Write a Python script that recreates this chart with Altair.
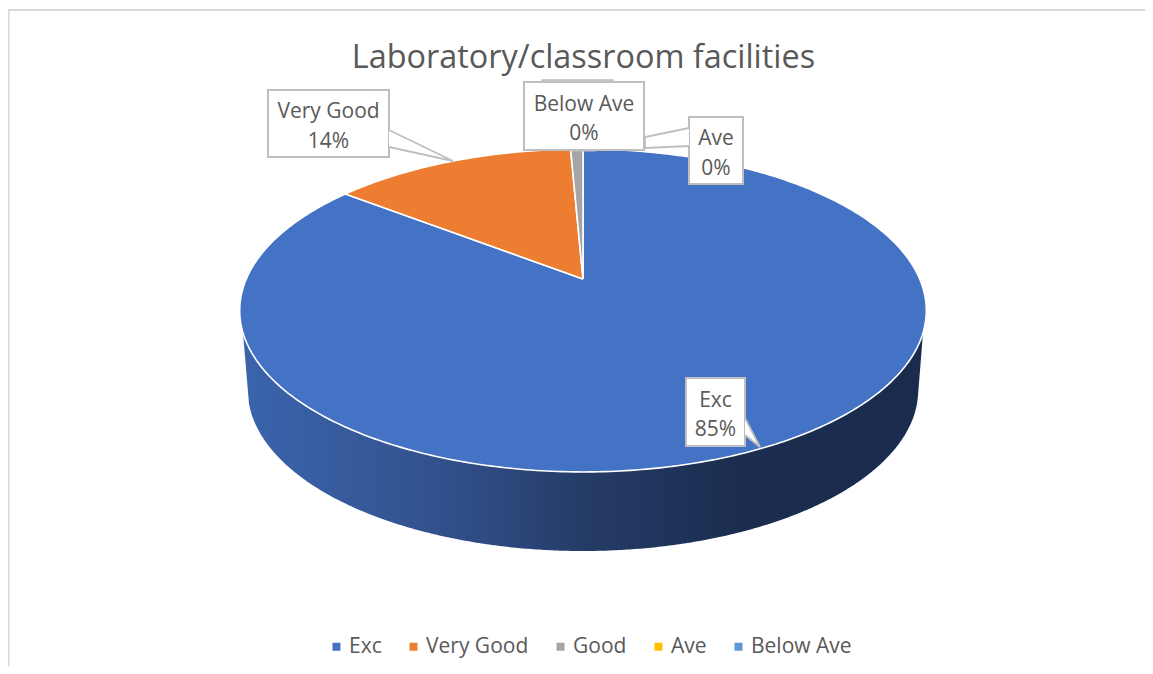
import numpy as np
import pandas as pd
import altair as alt

# ---- chart values ----
categories = ["Exc", "Very Good", "Good", "Ave", "Below Ave"]
values = [85.5, 13.8, 0.7, 0.0, 0.0]
colors = ["#4472C4", "#ED7D31", "#A5A5A5", "#FFC000", "#5B9BD5"]
title_text = "Laboratory/classroom facilities"

label_names = ["Very Good", "Below Ave", "Ave", "Exc"]
label_pcts = ["14%", "0%", "0%", "85%"]
box_left = [268, 524, 689, 686]
box_right = [389, 644, 743, 745]
box_top = [90, 82, 117, 378]
box_bottom = [157, 150, 184, 446]

FONT = "Open Sans"
TEXT = "#595959"
BOXLINE = "#BFBFBF"
LABEL_SIZE = 21

# ---- perspective of the pie's top face (page pixels) ----
CX, APEX_Y, A, C, B = 583.0, 279.0, 336.7, 0.195, -100.9


def project(angle):
    px, py = np.sin(angle), np.cos(angle)
    d = 1 + C * py
    return CX + A * px / d, (B * py + APEX_Y) / d


def slices():
    rows, start = [], 0.0
    total = sum(values)
    for cat, v in zip(categories, values):
        if v <= 0:
            continue
        a0, a1 = start / total * 2 * np.pi, (start + v) / total * 2 * np.pi
        ang = np.linspace(a0, a1, max(int(v * 5), 6))
        xs, ys = project(ang)
        pts = [(CX, APEX_Y)] + list(zip(xs, ys)) + [(CX, APEX_Y)]
        for i, (x, y) in enumerate(pts):
            rows.append({"category": cat, "x": x, "y": y, "i": i})
        start += v
    return pd.DataFrame(rows)


def wall():
    xs = CX + 340 * np.sin(np.linspace(-np.pi / 2, np.pi / 2, 400))
    xs = np.unique(np.concatenate([xs, [249.0, 918.0]]))
    top = 310.5 + 161.5 * np.sqrt(np.clip(1 - ((xs - CX) / 343.3) ** 2, 0, 1))
    bot = 390 + 161 * np.sqrt(np.clip(1 - ((xs - CX) / 335.2) ** 2, 0, 1))
    left = xs < 249
    bot[left] = np.interp(xs[left], [xs[0], 249], [top[0], bot[np.searchsorted(xs, 249.0)]])
    right = xs > 918
    bot[right] = np.interp(xs[right], [918, xs[-1]], [bot[np.searchsorted(xs, 918.0)], top[-1]])
    return pd.DataFrame({"x": xs, "y": top, "y2": bot})


sx = alt.Scale(domain=[8, 1145], range=[0, 1137], nice=False, zero=False)
sy = alt.Scale(domain=[8, 666], range=[0, 658], nice=False, zero=False)
X = alt.X("x:Q", scale=sx, axis=None)
Y = alt.Y("y:Q", scale=sy, axis=None)

frame_df = pd.DataFrame({"x": [8, 8.5], "x2": [1145, 8.5], "y": [10, 10], "y2": [10, 666]})
frame = alt.Chart(frame_df).mark_rule(color="#D9D9D9", strokeWidth=2).encode(
    x=X, x2="x2:Q", y=Y, y2="y2:Q"
)

side = alt.Chart(wall()).mark_area(
    color=alt.Gradient(
        gradient="linear",
        x1=0, x2=1, y1=0, y2=0,
        stops=[
            alt.GradientStop(offset=0, color="#3B64AC"),
            alt.GradientStop(offset=0.28, color="#32528E"),
            alt.GradientStop(offset=0.5, color="#253C68"),
            alt.GradientStop(offset=0.72, color="#1B2E50"),
            alt.GradientStop(offset=1, color="#1A2B4D"),
        ],
    )
).encode(x=X, y=Y, y2="y2:Q")

top_face = alt.Chart(slices()).mark_line(stroke="white", strokeWidth=1.6).encode(
    x=X,
    y=Y,
    order="i:Q",
    fill=alt.Fill(
        "category:N",
        scale=alt.Scale(domain=categories, range=colors),
        legend=alt.Legend(
            title=None,
            orient="none",
            legendX=318,
            legendY=628,
            direction="horizontal",
            columns=5,
            symbolType="square",
            symbolSize=64,
            symbolStrokeWidth=0,
            labelFont=FONT,
            labelFontSize=21,
            labelColor=TEXT,
            labelOffset=2,
            columnPadding=21,
        ),
    ),
)

# the "Good" label, almost entirely hidden behind "Below Ave"
hidden = alt.Chart(pd.DataFrame({"x": [542], "x2": [613], "y": [80], "y2": [100]})).mark_rect(
    fill="#D0D0D0", stroke=BOXLINE, strokeWidth=1.5
).encode(x=X, x2="x2:Q", y=Y, y2="y2:Q")

boxes_df = pd.DataFrame({"x": box_left, "x2": box_right, "y": box_top, "y2": box_bottom})
boxes = alt.Chart(boxes_df).mark_rect(fill="white", stroke=BOXLINE, strokeWidth=2).encode(
    x=X, x2="x2:Q", y=Y, y2="y2:Q"
)

leaders_df = pd.DataFrame(
    [
        ("vg", 0, 389, 130), ("vg", 1, 453, 161), ("vg", 2, 389, 147),
        ("ave", 0, 689, 128), ("ave", 1, 645, 137), ("ave", 2, 645, 148), ("ave", 3, 689, 146),
        ("exc", 0, 745, 418), ("exc", 1, 760, 447), ("exc", 2, 745, 435),
        ("below", 0, 572, 150), ("below", 1, 572, 150.5), ("below", 2, 595, 150.5), ("below", 3, 595, 150),
    ],
    columns=["id", "i", "x", "y"],
)
leaders = alt.Chart(leaders_df).mark_line(stroke=BOXLINE, strokeWidth=1.8, fill="white").encode(
    x=X, y=Y, detail="id:N", order="i:Q"
)

label_df = pd.DataFrame(
    {
        "x": [(a + b) / 2 for a, b in zip(box_left, box_right)],
        "y": [(a + b) / 2 for a, b in zip(box_top, box_bottom)],
        "t": [f"{n}\n{p}" for n, p in zip(label_names, label_pcts)],
    }
)
labels = alt.Chart(label_df).mark_text(
    lineBreak="\n", font=FONT, fontSize=LABEL_SIZE, color=TEXT, lineHeight=29.5,
    align="center", baseline="middle", dy=-11.5,
).encode(x=X, y=Y, text="t:N")

chart = (
    alt.layer(frame, side, top_face, hidden, boxes, leaders, labels)
    .properties(
        width=1137,
        height=658,
        padding=0,
        autosize=alt.AutoSizeParams(type="none"),
        title=alt.TitleParams(
            title_text, font=FONT, fontSize=32.4, fontWeight="normal", color=TEXT,
            anchor="middle", dx=7, dy=70,
        ),
    )
    .configure_view(stroke=None)
)

chart.save("out.html", embed_options={"renderer": "svg", "actions": False})
